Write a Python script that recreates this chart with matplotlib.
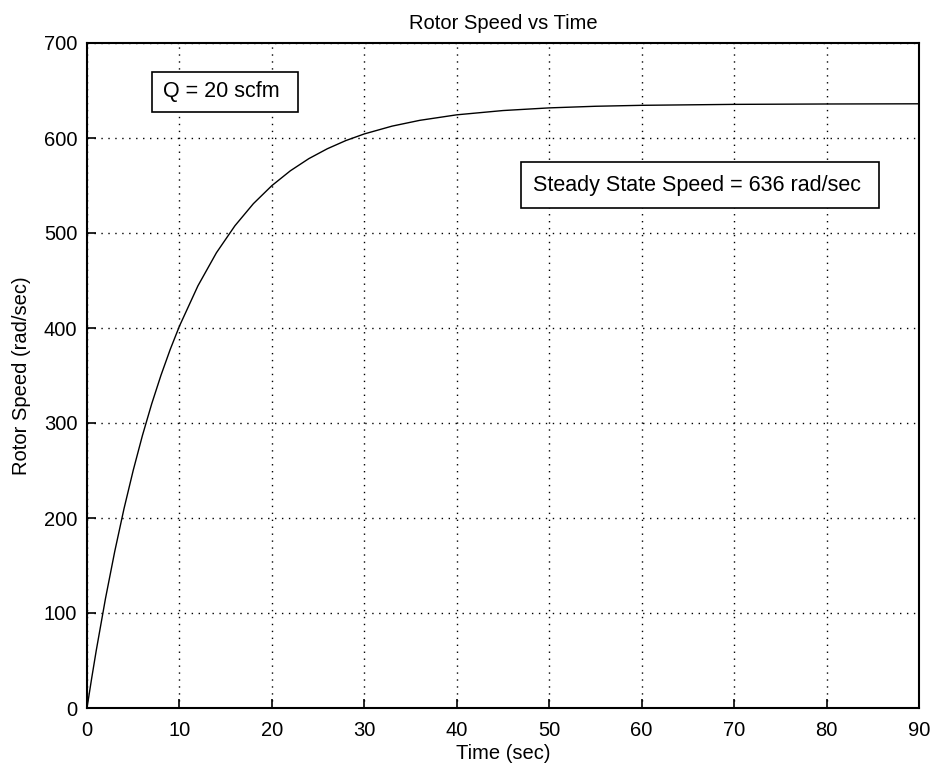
import matplotlib
matplotlib.use("Agg")
import matplotlib.pyplot as plt
from matplotlib.patches import Rectangle

plt.rcParams.update({"font.family": ["Liberation Sans", "DejaVu Sans"],
                     "font.size": 14.5})

# ── values ───────────────────────────────────────────────────────────────────
time_s = [0, 0.5, 1, 2, 3, 4, 5, 6, 7, 8, 9, 10, 12, 14, 16, 18, 20, 22, 24,
          26, 28, 30, 33, 36, 40, 45, 50, 55, 60, 70, 80, 90]
speed = [0, 31, 60.5, 115.3, 164.8, 209.7, 250.2, 287.0, 320.2, 350.2, 377.4,
         402.0, 444.4, 479.2, 507.6, 530.9, 549.9, 565.5, 578.3, 588.7, 597.3,
         604.3, 612.5, 618.6, 624.4, 628.9, 631.7, 633.4, 634.4, 635.4, 635.8, 636]

x_ticks = list(range(0, 91, 10))
y_ticks = list(range(0, 701, 100))

fig = plt.figure(figsize=(9.32, 7.68), dpi=100, facecolor="white")
ax = fig.add_axes([87/932, 60/768, 832/932, 665/768])

ax.plot(time_s, speed, color="black", lw=1.0)

ax.set_xlim(0, 90)
ax.set_ylim(0, 700)
ax.set_xticks(x_ticks)
ax.set_yticks(y_ticks)
ax.tick_params(direction="in", length=6.5, width=1.2, pad=7)
ax.tick_params(axis="x", pad=9)
ax.grid(True, color="black", ls=(0, (1, 4)), lw=1.0)
for sp in ax.spines.values():
    sp.set_linewidth(1.5)

ax.set_title("Rotor Speed vs Time", fontsize=14.5, pad=10)
ax.set_xlabel("Time (sec)", labelpad=3)
ax.set_ylabel("Rotor Speed (rad/sec)", labelpad=9)

# annotation boxes
ax.add_patch(Rectangle((7.03, 627.4), 22.8 - 7.03, 669.5 - 627.4,
                       fill=True, facecolor="white", edgecolor="black", lw=1.2, zorder=3))
ax.text(8.22, 648.5, "Q = 20 scfm", fontsize=15.5, ha="left", va="center", zorder=4)

ax.add_patch(Rectangle((46.95, 526.3), 85.7 - 46.95, 574.7 - 526.3,
                       fill=True, facecolor="white", edgecolor="black", lw=1.2, zorder=3))
ax.text(48.25, 550.5, "Steady State Speed = 636 rad/sec", fontsize=15.5,
        ha="left", va="center", zorder=4)

fig.savefig("out.png", dpi=100, facecolor="white")
